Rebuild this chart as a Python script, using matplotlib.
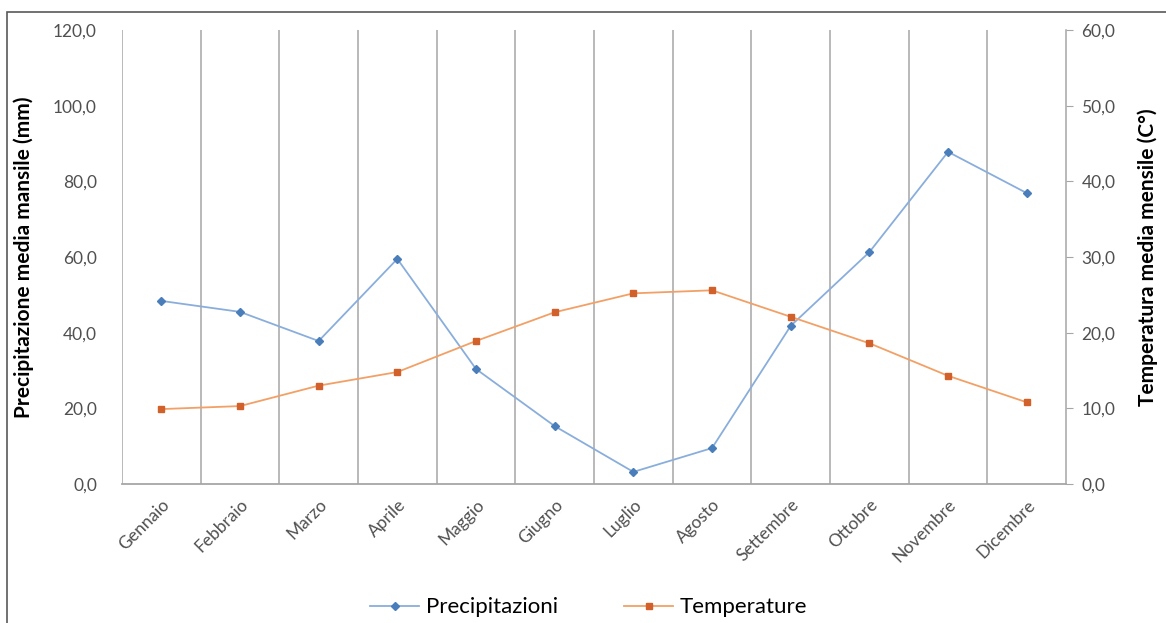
import matplotlib.pyplot as plt
from matplotlib.patches import Rectangle

mesi = ["Gennaio", "Febbraio", "Marzo", "Aprile", "Maggio", "Giugno",
        "Luglio", "Agosto", "Settembre", "Ottobre", "Novembre", "Dicembre"]
precipitazioni = [48.4, 45.5, 37.8, 59.5, 30.4, 15.3, 3.2, 9.5, 41.8, 61.3, 87.8, 76.9]
temperature = [9.9, 10.3, 13.0, 14.8, 18.9, 22.7, 25.2, 25.6, 22.1, 18.6, 14.3, 10.8]
left_ticks = [0, 20, 40, 60, 80, 100, 120]
right_ticks = [0, 10, 20, 30, 40, 50, 60]

plt.rcParams["font.family"] = ["Lato", "DejaVu Sans"]

fig = plt.figure(figsize=(11.66, 6.23), dpi=100)
ax = fig.add_axes([0.1046, 0.2231, 0.8097, 0.7287])
ax2 = ax.twinx()

grid_c = "#a6a6a6"
txt_c = "#505050"

x = list(range(len(mesi)))
ax.set_xlim(-0.5, len(mesi) - 0.5)
ax.set_ylim(0, 120)
ax2.set_ylim(0, 60)

# vertical grid at category boundaries
for b in range(len(mesi)):
    ax.axvline(b - 0.5, color=grid_c, lw=1.1, zorder=0)

l1, = ax.plot(x, precipitazioni, color="#8aaedb", lw=1.3, marker="D",
              ms=4.5, mfc="#4a7ebb", mec="#4a7ebb", zorder=3)
l2, = ax2.plot(x, temperature, color="#f2a066", lw=1.3, marker="s",
               ms=5, mfc="#d2602a", mec="#d2602a", zorder=3)

for a in (ax, ax2):
    for s in ("top", "left", "right", "bottom"):
        a.spines[s].set_visible(False)
ax.spines["bottom"].set_visible(True)
ax.spines["bottom"].set_color(grid_c)
ax.spines["bottom"].set_linewidth(1.3)
ax2.spines["right"].set_visible(True)
ax2.spines["right"].set_color(grid_c)
ax2.spines["right"].set_linewidth(1.1)

ax.set_yticks(left_ticks)
ax.set_yticklabels([f"{v:.1f}".replace(".", ",") for v in left_ticks])
ax.tick_params(axis="y", length=0, pad=18, labelsize=12.5, labelcolor=txt_c)
ax2.set_yticks(right_ticks)
ax2.set_yticklabels([f"{v:.1f}".replace(".", ",") for v in right_ticks])
ax2.tick_params(axis="y", length=5, color=grid_c, pad=6, labelsize=12.5, labelcolor=txt_c)

ax.set_xticks(x)
ax.set_xticklabels(mesi, rotation=45, ha="right", rotation_mode="anchor")
ax.tick_params(axis="x", length=0, pad=9, labelsize=12.5, labelcolor=txt_c)

ax.set_ylabel("Precipitazione media mansile (mm)", fontsize=15,
              fontweight="bold", color="black", labelpad=14)
ax2.set_ylabel("Temperatura media mensile (C°)", fontsize=15,
               fontweight="bold", color="black", labelpad=16)

fig.legend([l1, l2], ["Precipitazioni", "Temperature"], loc="center",
           bbox_to_anchor=(0.505, 0.025), ncol=2, frameon=False,
           fontsize=16, handlelength=2.2, handletextpad=0.3,
           columnspacing=3.0, labelcolor="black")

# outer chart border
fig.patches.append(Rectangle((7 / 1166, -0.1), 1.2, 1 - 12 / 623 + 0.1,
                             transform=fig.transFigure, fill=False,
                             ec="#595959", lw=1.2))

fig.savefig("out.png", dpi=100)
